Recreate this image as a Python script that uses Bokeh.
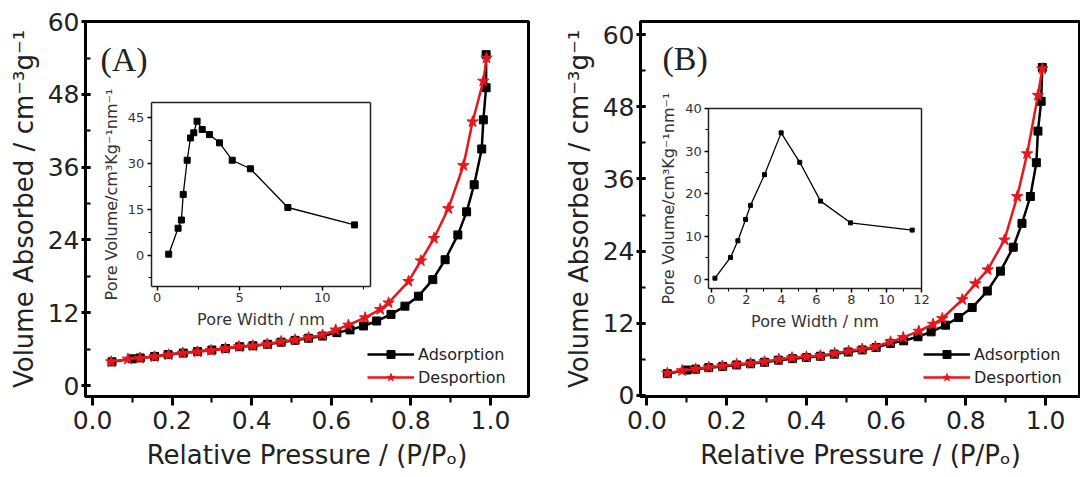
from bokeh.plotting import figure
from bokeh.models import (Range1d, LinearAxis, SingleIntervalTicker, FixedTicker, PrintfTickFormatter,
                          Legend, LegendItem, Label)
from bokeh.layouts import row
from bokeh.embed import file_html
from bokeh.resources import INLINE

# ---------------- data ----------------
# Panel A isotherm
a_ads_p = [0.049, 0.10, 0.12, 0.156, 0.19, 0.228, 0.264, 0.30, 0.334, 0.37, 0.403, 0.44, 0.474,
           0.509, 0.543, 0.578, 0.614, 0.647, 0.681, 0.714, 0.750, 0.785, 0.819, 0.855, 0.886,
           0.918, 0.940, 0.959, 0.978, 0.982, 0.989, 0.989]
a_ads_v = [3.9, 4.4, 4.55, 4.8, 5.1, 5.35, 5.6, 5.85, 6.1, 6.4, 6.55, 6.8, 7.15, 7.45, 7.8, 8.15,
           8.72, 9.17, 9.82, 10.64, 11.73, 13.09, 14.73, 17.46, 20.74, 24.83, 28.64, 33.11, 39.0,
           43.81, 49.10, 54.55]
a_des_p = [0.047, 0.089, 0.119, 0.156, 0.191, 0.227, 0.264, 0.298, 0.334, 0.368, 0.403, 0.439,
           0.474, 0.509, 0.543, 0.578, 0.611, 0.643, 0.685, 0.723, 0.744, 0.794, 0.825, 0.858,
           0.894, 0.932, 0.955, 0.982, 0.990]
a_des_v = [3.93, 4.37, 4.53, 4.75, 5.07, 5.35, 5.56, 5.78, 6.10, 6.43, 6.55, 6.83, 7.25, 7.53,
           7.91, 8.35, 9.17, 9.98, 11.18, 12.55, 13.63, 17.18, 20.57, 24.27, 29.18, 36.28, 43.49,
           50.20, 54.01]
# Panel A pore size distribution (inset)
a_psd_w = [0.70, 1.27, 1.47, 1.58, 1.82, 2.02, 2.22, 2.42, 2.73, 3.17, 3.78, 4.55, 5.65, 7.92, 11.96]
a_psd_v = [0.3, 8.8, 11.5, 19.9, 31.1, 38.4, 40.1, 43.9, 41.2, 39.5, 36.8, 31.1, 28.3, 15.6, 9.9]

# Panel B isotherm
b_ads_p = [0.051, 0.10, 0.122, 0.155, 0.19, 0.225, 0.26, 0.295, 0.33, 0.365, 0.40, 0.435, 0.47,
           0.505, 0.54, 0.575, 0.611, 0.644, 0.680, 0.713, 0.749, 0.782, 0.816, 0.854, 0.887,
           0.919, 0.941, 0.962, 0.977, 0.981, 0.989, 0.992]
b_ads_v = [3.6, 4.2, 4.35, 4.6, 4.8, 5.05, 5.25, 5.5, 5.85, 6.1, 6.3, 6.5, 6.85, 7.2, 7.55, 7.95,
           8.64, 9.07, 9.74, 10.56, 11.67, 12.95, 14.60, 17.35, 20.66, 24.64, 28.61, 33.08, 38.71,
           43.96, 48.92, 54.55]
b_des_p = [0.051, 0.088, 0.122, 0.155, 0.189, 0.225, 0.260, 0.295, 0.331, 0.364, 0.400, 0.435,
           0.471, 0.506, 0.540, 0.573, 0.611, 0.643, 0.682, 0.718, 0.741, 0.791, 0.824, 0.855,
           0.897, 0.929, 0.954, 0.981, 0.992]
b_des_v = [3.68, 4.11, 4.39, 4.67, 4.88, 5.16, 5.33, 5.60, 5.99, 6.26, 6.42, 6.59, 6.99, 7.37,
           7.70, 8.08, 8.9, 9.64, 10.68, 11.84, 12.78, 15.93, 18.58, 20.89, 25.86, 33.08, 40.2,
           49.92, 54.34]
# Panel B pore size distribution (inset)
b_psd_w = [0.21, 1.10, 1.52, 1.96, 2.24, 3.04, 3.99, 5.05, 6.24, 7.95, 11.47]
b_psd_v = [0.23, 5.1, 9.0, 14.0, 17.3, 24.5, 34.3, 27.4, 18.3, 13.2, 11.5]

series_labels = ["Adsorption", "Desportion"]
x_title = "Relative Pressure / (P/P\u2092)"
y_title = "Volume Absorbed / cm\u207b\u00b3g\u207b\u00b9"
inset_x_title = "Pore Width / nm"
inset_y_title = "Pore Volume/cm\u00b3Kg\u207b\u00b9nm\u207b\u00b9"

SANS = "DejaVu Sans"
RED = "#e8161c"
W, H = 540, 477


def outer(v0, v1, p0, p1, f0, f1):
    """Extra range so that values v0..v1 land on pixels p0..p1 of a frame spanning f0..f1."""
    k = (v1 - v0) / (p1 - p0)
    return Range1d(start=v0 - (p0 - f0) * k, end=v1 + (f1 - p1) * k)


def panel(tag, ads_p, ads_v, des_p, des_v, psd_w, psd_v, border, xr, yr,
          box, ixr, iyr, ixtick, iytick, tag_xy, legend_xy, psd_size):
    bl, br, bt, bb = border
    p = figure(width=W, height=H, output_backend="svg", toolbar_location=None,
               x_range=Range1d(*xr), y_range=Range1d(*yr),
               min_border_left=bl, min_border_right=br, min_border_top=bt, min_border_bottom=bb)
    p.grid.visible = False
    p.outline_line_color = "black"
    p.outline_line_width = 3
    p.background_fill_color = "white"
    p.border_fill_color = "white"

    mx = p.below[0]
    my = p.left[0]
    mx.ticker = SingleIntervalTicker(interval=0.2, num_minor_ticks=2)
    mx.formatter = PrintfTickFormatter(format="%.1f")
    my.ticker = SingleIntervalTicker(interval=12, num_minor_ticks=2)
    for ax in (mx, my):
        ax.axis_line_width = 3
        ax.major_tick_line_width = 3
        ax.minor_tick_line_width = 2
        ax.major_label_text_font = SANS
        ax.major_label_text_font_size = "25px"
        ax.major_label_text_color = "#222222"
        ax.axis_label_text_font = SANS
        ax.axis_label_text_font_size = "26px"
        ax.axis_label_text_font_style = "normal"
        ax.axis_label_text_color = "#222222"
    mx.axis_label = x_title
    my.axis_label = y_title
    mx.major_tick_out, mx.major_tick_in = 9, 0
    mx.minor_tick_out, mx.minor_tick_in = 6, 0
    mx.major_label_standoff = 5
    mx.axis_label_standoff = 8
    my.major_tick_out, my.major_tick_in = 4, 5
    my.minor_tick_out, my.minor_tick_in = 0, 5
    my.major_label_standoff = 2
    my.axis_label_standoff = 6

    # isotherm curves
    la = p.line(ads_p, ads_v, line_color="black", line_width=2.5)
    sa = p.scatter(ads_p, ads_v, marker="square", size=8, color="black")
    ld = p.line(des_p, des_v, line_color=RED, line_width=2.5)
    sd = p.scatter(des_p, des_v, marker="star", size=12, color=RED)

    legend = Legend(items=[LegendItem(label=series_labels[0], renderers=[la, sa]),
                           LegendItem(label=series_labels[1], renderers=[ld, sd])],
                    location=legend_xy, border_line_color=None, background_fill_alpha=0,
                    padding=0, margin=0, spacing=3, glyph_width=47, glyph_height=20,
                    label_height=20, label_standoff=4, label_text_font=SANS,
                    label_text_font_size="16px", label_text_color="#222222")
    p.add_layout(legend)

    p.add_layout(Label(x=tag_xy[0], y=tag_xy[1], text=tag, text_font="Liberation Serif",
                       text_font_size="34px", text_baseline="middle", text_align="left",
                       text_color="#222222"))

    # inset: extra ranges mapped so that the inset box sits at the right pixels
    fx0, fx1 = bl, W - br
    fy_h = H - bt - bb
    bx0, by0, bx1, by1 = box
    p.extra_x_ranges = {"ix": outer(ixr[0], ixr[1], bx0, bx1, fx0, fx1)}
    p.extra_y_ranges = {"iy": outer(iyr[0], iyr[1], (H - bb) - by1, (H - bb) - by0, 0, fy_h)}

    def inset_axis(side, loc, bounds, ticker, label, ticks):
        ax = LinearAxis(x_range_name="ix", y_range_name="iy", fixed_location=loc, bounds=bounds,
                        ticker=ticker)
        ax.axis_line_width = 1.5
        ax.axis_line_color = "#222222"
        if ticks:
            ax.major_tick_out, ax.major_tick_in = 4, 0
            ax.minor_tick_out, ax.minor_tick_in = 3, 0
            ax.major_tick_line_width = 1.5
            ax.minor_tick_line_width = 1
            ax.major_label_text_font = SANS
            ax.major_label_text_font_size = "13px"
            ax.major_label_text_color = "#333333"
            ax.major_label_standoff = 3
            ax.axis_label = label
            ax.axis_label_text_font = SANS
            ax.axis_label_text_font_size = "16px"
            ax.axis_label_text_font_style = "normal"
            ax.axis_label_text_color = "#333333"
            ax.axis_label_standoff = 4
        else:
            ax.major_tick_line_color = None
            ax.minor_tick_line_color = None
        p.add_layout(ax, side)

    inset_axis("below", iyr[0], ixr, SingleIntervalTicker(interval=ixtick, num_minor_ticks=2),
               inset_x_title, True)
    inset_axis("left", ixr[0], iyr, SingleIntervalTicker(interval=iytick, num_minor_ticks=2),
               inset_y_title, True)
    inset_axis("above", iyr[1], ixr, FixedTicker(ticks=[]), None, False)
    inset_axis("right", ixr[1], iyr, FixedTicker(ticks=[]), None, False)

    p.line(psd_w, psd_v, x_range_name="ix", y_range_name="iy", line_color="black", line_width=1.3)
    p.scatter(psd_w, psd_v, x_range_name="ix", y_range_name="iy", marker="square",
              size=psd_size, color="black")
    return p


pa = panel("(A)", a_ads_p, a_ads_v, a_des_p, a_des_v, a_psd_w, a_psd_v,
           border=(85, 12, 20, 81), xr=(-0.0176, 1.0955), yr=(-1.81, 60.02),
           box=(150.7, 101, 370.2, 285.7), ixr=(-0.36, 12.94), iyr=(-10.3, 50.1),
           ixtick=5, iytick=15, tag_xy=(0.02, 53.8), legend_xy=(282, 9), psd_size=6)

pb = panel("(B)", b_ads_p, b_ads_v, b_des_p, b_des_v, b_psd_w, b_psd_v,
           border=(100, 0, 21, 80), xr=(-0.0163, 1.0878), yr=(-0.2, 62.2),
           box=(168.3, 108.3, 381, 288.3), ixr=(-0.14, 12.0), iyr=(-2.1, 40.0),
           ixtick=2, iytick=10, tag_xy=(0.039, 56.0), legend_xy=(283, 9), psd_size=4)

layout = row(pa, pb)
open("out.html", "w").write(file_html(layout, INLINE))
